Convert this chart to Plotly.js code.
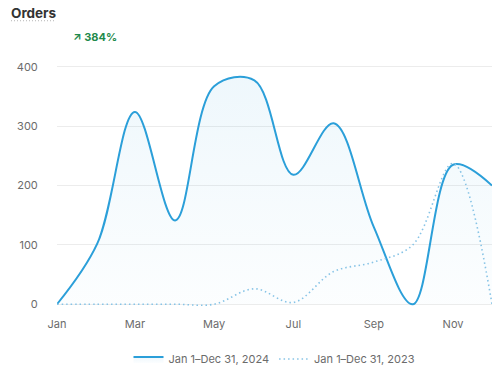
<!DOCTYPE html>
<html>
<head>
<meta charset="utf-8">
<script src="https://cdn.plot.ly/plotly-3.0.1.min.js"></script>
<style>
html,body{margin:0;padding:0;background:#fff;}
#chart{width:500px;height:381px;}
</style>
</head>
<body>
<div id="chart"></div>
<script>
var months = ['2024-01-01','2024-02-01','2024-03-01','2024-04-01','2024-05-01','2024-06-01','2024-07-01','2024-08-01','2024-09-01','2024-10-01','2024-11-01','2024-12-01'];
var orders2024 = [0, 102, 324, 141, 367, 377, 218, 305, 130, 0, 235, 200];
var orders2023 = [0, 0, 0, 0, 0, 26, 3, 55, 71, 100, 237, 0];
var seriesNames = ['Jan 1\u2013Dec 31, 2024', 'Jan 1\u2013Dec 31, 2023'];
var yTicks = [0, 100, 200, 300, 400];
var titleText = 'Orders';
var changeText = '\u2197 384%';

var blue = '#2b9fd9';
var traces = [
  {
    x: months, y: orders2024, name: seriesNames[0], type: 'scatter', mode: 'lines',
    line: {color: blue, width: 2, shape: 'spline', smoothing: 1},
    fill: 'tozeroy',
    fillgradient: {type: 'vertical', start: 0, stop: 400,
      colorscale: [[0, 'rgba(43,159,217,0.015)'], [1, 'rgba(43,159,217,0.08)']]},
    hoverinfo: 'skip'
  },
  {
    x: months, y: orders2023, name: seriesNames[1], type: 'scatter', mode: 'lines',
    line: {color: '#86c3e6', width: 1.6, dash: '1.5px,3px', shape: 'spline', smoothing: 1},
    hoverinfo: 'skip'
  }
];

var W = 435, H = 245;
var layout = {
  width: 500, height: 381,
  margin: {l: 57, r: 8, t: 65, b: 71},
  paper_bgcolor: '#fff', plot_bgcolor: '#fff',
  font: {family: 'Inter, "Noto Sans", sans-serif', size: 11, color: '#6b6b6b'},
  showlegend: true,
  legend: {orientation: 'h', x: 0.5, xanchor: 'center', y: -0.22, yanchor: 'middle',
    font: {size: 11, color: '#6b6b6b'}, traceorder: 'normal'},
  xaxis: {
    type: 'date', range: ['2024-01-01', '2024-12-01'],
    dtick: 'M2', tick0: '2024-01-01', tickformat: '%b',
    showgrid: false, zeroline: false, showline: false,
    ticks: 'outside', ticklen: 8, tickcolor: 'rgba(0,0,0,0)',
    tickfont: {size: 11, color: '#6b6b6b'}, fixedrange: true
  },
  yaxis: {
    range: [-3, 403], tickvals: yTicks, ticktext: yTicks.map(String),
    showgrid: true, gridcolor: '#ececec', gridwidth: 1,
    zeroline: false, showline: false,
    ticks: 'outside', ticklen: 16, tickcolor: 'rgba(0,0,0,0)',
    tickfont: {size: 11, color: '#6b6b6b'}, fixedrange: true
  },
  annotations: [
    {text: '<b>' + titleText + '</b>', xref: 'paper', yref: 'paper', x: -48/W, y: 1 + 53/H,
      xanchor: 'left', yanchor: 'middle', showarrow: false,
      font: {size: 13.5, color: '#333333'}},
    {text: '<b>' + changeText + '</b>', xref: 'paper', yref: 'paper', x: 14/W, y: 1 + 28/H,
      xanchor: 'left', yanchor: 'middle', showarrow: false,
      font: {size: 11, color: '#1f8a4c'}}
  ],
  shapes: [
    {type: 'line', xref: 'paper', yref: 'paper', x0: -46/W, x1: -1/W, y0: 1 + 45/H, y1: 1 + 45/H,
      line: {color: '#b5b5b5', width: 1, dash: '1px,2px'}}
  ]
};

Plotly.newPlot('chart', traces, layout, {displayModeBar: false, staticPlot: true});
</script>
</body>
</html>
